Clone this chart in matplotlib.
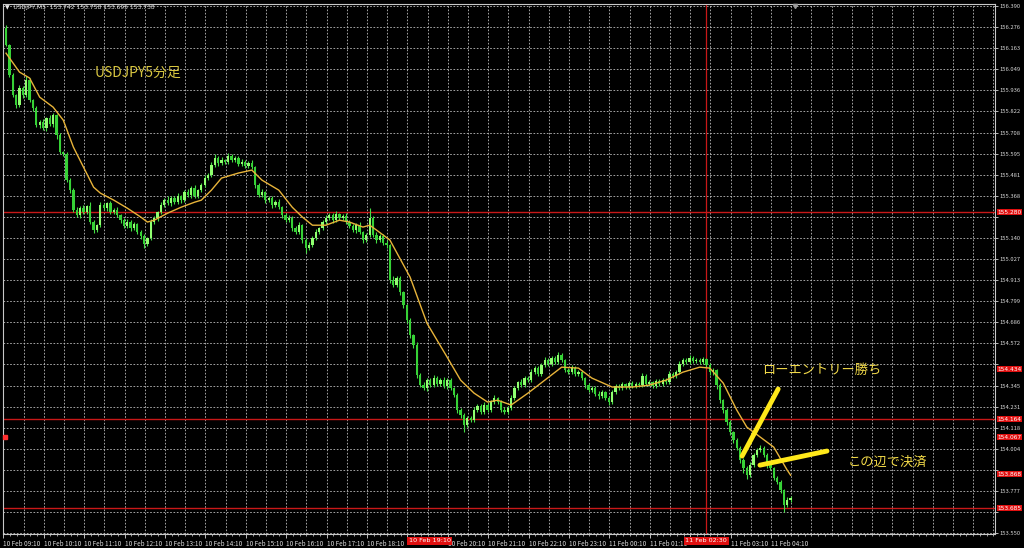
import numpy as np
import matplotlib
matplotlib.use("Agg")
import matplotlib.pyplot as plt

plt.rcParams["font.family"] = ["Noto Sans CJK JP", "DejaVu Sans"]

# --- Daten: USDJPY 5-Minuten-Kerzen (aus dem Bild geschaetzt) ---
first_open = 156.270
closes = [
    156.180, 156.018, 155.910, 155.856, 155.948, 155.910, 155.991, 155.883, 155.840, 155.748,
    155.765, 155.732, 155.786, 155.754, 155.802, 155.694, 155.603, 155.592, 155.452, 155.398,
    155.290, 155.263, 155.301, 155.280, 155.312, 155.226, 155.183, 155.209, 155.317, 155.301,
    155.328, 155.280, 155.290, 155.263, 155.236, 155.204, 155.226, 155.193, 155.215, 155.172,
    155.150, 155.107, 155.139, 155.226, 155.247, 155.280, 155.317, 155.344, 155.328, 155.355,
    155.333, 155.366, 155.344, 155.387, 155.371, 155.409, 155.366, 155.398, 155.425, 155.463,
    155.479, 155.533, 155.571, 155.544, 155.560, 155.549, 155.581, 155.560, 155.571, 155.538,
    155.549, 155.527, 155.544, 155.522, 155.425, 155.371, 155.387, 155.344, 155.355, 155.317,
    155.333, 155.306, 155.263, 155.236, 155.247, 155.193, 155.172, 155.209, 155.129, 155.085,
    155.102, 155.139, 155.172, 155.193, 155.226, 155.247, 155.263, 155.236, 155.269, 155.247,
    155.258, 155.226, 155.204, 155.183, 155.209, 155.172, 155.129, 155.156, 155.247, 155.156,
    155.129, 155.150, 155.112, 155.102, 154.913, 154.886, 154.924, 154.848, 154.778, 154.698,
    154.617, 154.563, 154.401, 154.347, 154.331, 154.374, 154.347, 154.385, 154.353, 154.374,
    154.342, 154.374, 154.331, 154.293, 154.213, 154.186, 154.132, 154.169, 154.159, 154.213,
    154.234, 154.202, 154.240, 154.213, 154.256, 154.277, 154.256, 154.213, 154.202, 154.223,
    154.277, 154.331, 154.363, 154.347, 154.385, 154.374, 154.417, 154.439, 154.407, 154.455,
    154.482, 154.460, 154.493, 154.471, 154.509, 154.482, 154.428, 154.417, 154.439, 154.407,
    154.417, 154.385, 154.347, 154.320, 154.331, 154.299, 154.288, 154.310, 154.277, 154.256,
    154.310, 154.342, 154.331, 154.353, 154.337, 154.358, 154.342, 154.353, 154.347, 154.396,
    154.353, 154.363, 154.342, 154.369, 154.353, 154.374, 154.363, 154.407, 154.396, 154.417,
    154.460, 154.482, 154.471, 154.493, 154.477, 154.482, 154.471, 154.487, 154.455, 154.417,
    154.428, 154.347, 154.266, 154.213, 154.148, 154.094, 154.051, 154.008, 153.943, 153.900,
    153.862, 153.916, 153.970, 153.997, 154.008, 153.970, 153.916, 153.900, 153.846, 153.825,
    153.781, 153.701, 153.728, 153.738,
]
# Dochtlaengen in Points (0.001)
upper_wick = [
    20, 8, 12, 6, 18, 10, 22, 9, 7, 14, 10, 16, 8, 18, 12, 6, 10, 8, 14, 9,
    12, 18, 10, 15, 8, 20, 11, 9, 17, 12, 7, 14, 10, 19, 8, 13, 16, 9, 11, 6,
    10, 14, 9, 18, 12, 8, 15, 11, 20, 9, 13, 17, 8, 12, 16, 10, 14, 7, 12, 18,
    9, 15, 20, 11, 14, 8, 18, 10, 13, 9, 16, 12, 10, 15, 8, 11, 17, 9, 14, 12,
    10, 16, 8, 13, 18, 9, 12, 15, 7, 10, 14, 11, 17, 9, 13, 16, 10, 12, 18, 8,
    12, 15, 9, 14, 11, 17, 8, 13, 55, 10, 14, 9, 12, 16, 8, 20, 10, 12, 9, 7,
    10, 8, 14, 11, 16, 9, 13, 18, 10, 12, 15, 9, 11, 8, 10, 12, 9, 14, 11, 16,
    12, 9, 15, 10, 13, 17, 8, 11, 14, 10, 18, 12, 9, 15, 11, 13, 16, 10, 12, 14,
    18, 10, 13, 9, 15, 11, 8, 12, 14, 9, 11, 13, 8, 10, 12, 9, 14, 10, 8, 11,
    12, 9, 10, 13, 8, 11, 9, 12, 10, 16, 9, 11, 8, 12, 10, 13, 9, 14, 11, 12,
    15, 12, 10, 14, 9, 11, 13, 10, 8, 9, 12, 7, 10, 8, 9, 11, 8, 10, 9, 12,
    14, 18, 12, 10, 16, 9, 11, 13, 8, 10, 12, 9, 14, 10,
]
lower_wick = [
    8, 12, 10, 16, 9, 14, 8, 12, 15, 10, 13, 9, 16, 11, 14, 18, 9, 12, 10, 15,
    11, 9, 14, 10, 13, 8, 16, 12, 9, 11, 15, 10, 12, 8, 14, 11, 9, 13, 10, 12,
    14, 20, 10, 9, 12, 15, 8, 11, 10, 13, 9, 12, 14, 10, 8, 13, 11, 9, 10, 8,
    12, 9, 11, 14, 8, 12, 10, 9, 13, 11, 8, 12, 10, 9, 15, 12, 10, 14, 11, 13,
    10, 12, 14, 9, 11, 15, 12, 10, 16, 25, 12, 9, 11, 13, 10, 8, 12, 14, 9, 11,
    10, 13, 12, 9, 14, 11, 16, 12, 10, 13, 15, 12, 10, 14, 18, 12, 10, 15, 13, 16,
    14, 18, 15, 12, 10, 13, 11, 9, 12, 10, 11, 13, 10, 12, 15, 14, 40, 12, 13, 10,
    11, 9, 12, 10, 8, 11, 9, 12, 13, 10, 9, 11, 12, 10, 9, 11, 8, 10, 12, 9,
    8, 10, 9, 11, 8, 10, 12, 9, 11, 10, 9, 12, 14, 10, 12, 11, 13, 10, 12, 15,
    10, 12, 9, 11, 10, 9, 12, 10, 11, 8, 10, 9, 12, 10, 11, 9, 10, 12, 9, 10,
    11, 9, 10, 8, 9, 10, 8, 9, 12, 14, 16, 18, 15, 14, 16, 13, 15, 12, 14, 25,
    22, 12, 10, 9, 11, 12, 14, 10, 12, 11, 13, 40, 12, 10,
]

# gleitender Durchschnitt
ma_bars = [0, 4, 7, 10, 14, 17, 20, 23, 26, 28, 32, 36, 40, 42, 44, 48, 52, 56, 58, 61,
           64, 69, 73, 76, 81, 85, 88, 91, 95, 99, 102, 106, 108, 110, 114, 120, 125, 131, 135, 139,
           143, 146, 150, 155, 160, 165, 170, 174, 180, 186, 191, 196, 201, 206, 209, 213, 217, 220, 224, 228,
           232, 233]
ma_values = [156.136, 156.034, 156.002, 155.899, 155.845, 155.775, 155.630, 155.522, 155.414, 155.382,
             155.344, 155.301, 155.253, 155.226, 155.236, 155.274, 155.306, 155.333, 155.344, 155.398,
             155.463, 155.490, 155.506, 155.452, 155.398, 155.306, 155.253, 155.209, 155.209, 155.236,
             155.226, 155.199, 155.209, 155.183, 155.129, 154.929, 154.681, 154.498, 154.374, 154.304,
             154.256, 154.266, 154.240, 154.304, 154.374, 154.444, 154.439, 154.385, 154.337, 154.337,
             154.347, 154.374, 154.417, 154.444, 154.439, 154.358, 154.213, 154.121, 154.067, 154.013,
             153.889, 153.862]

level_prices = [155.280, 154.164, 153.685]
marker_prices = [155.280, 154.434, 154.164, 154.067, 153.868, 153.685]
price_ticks = [156.390, 156.276, 156.163, 156.049, 155.936, 155.822, 155.708, 155.595, 155.481,
               155.368, 155.254, 155.140, 155.027, 154.913, 154.799, 154.686, 154.572, 154.459,
               154.345, 154.231, 154.118, 154.004, 153.891, 153.777, 153.663, 153.550]
time_labels = ["10 Feb 09:10", "10 Feb 10:10", "10 Feb 11:10", "10 Feb 12:10", "10 Feb 13:10",
               "10 Feb 14:10", "10 Feb 15:10", "10 Feb 16:10", "10 Feb 17:10", "10 Feb 18:10",
               "10 Feb 19:10", "10 Feb 20:10", "10 Feb 21:10", "10 Feb 22:10", "10 Feb 23:10",
               "11 Feb 00:10", "11 Feb 01:10", "11 Feb 02:10", "11 Feb 03:10", "11 Feb 04:10"]
crosshair_bar = 207.9
crosshair_label = "11 Feb 02:30"
event_bar = 119.6
event_label = "10 Feb 19:10"

GRID = "#bdbdbd"
RED = "#c81818"
MARK = "#e01010"

fig = plt.figure(figsize=(10.24, 5.48), dpi=100, facecolor="black")
ax = fig.add_axes([3 / 1024, 14 / 548, 992 / 1024, 530 / 548], facecolor="black")

# Raster
for g in np.arange(-0.8, 294, 6):
    ax.axvline(g, color=GRID, lw=0.6, ls=(0, (2, 2)), zorder=1)
for p in price_ticks:
    ax.axhline(p, color=GRID, lw=0.6, ls=(0, (2, 2)), zorder=1)

# Kerzen
c = np.array(closes)
o = np.r_[first_open, c[:-1]]
hi = np.maximum(o, c) + np.array(upper_wick) * 0.001
lo = np.minimum(o, c) - np.array(lower_wick) * 0.001
idx = np.arange(len(c))
bull = c >= o
ax.vlines(idx, lo, hi, color="#44dd44", lw=0.8, zorder=3)
ax.bar(idx, np.maximum(np.abs(c - o), 0.004), bottom=np.minimum(o, c), width=0.68,
       color=np.where(bull, "#90ff70", "#36d236"), edgecolor="none", zorder=4)

ax.plot(ma_bars, ma_values, color="#e8b43a", lw=1.0, zorder=5)

# Linien
for p in level_prices:
    ax.axhline(p, color=RED, lw=1.0, zorder=2)
ax.axvline(crosshair_bar, color=RED, lw=0.9, zorder=2)

ax.set_xlim(-0.9, 293.7)
ax.set_ylim(153.545, 156.401)

ax.yaxis.tick_right()
ax.set_yticks(price_ticks)
ax.set_yticklabels([f"{p:.3f}" for p in price_ticks])
ax.tick_params(axis="y", colors="#d8d8d8", labelsize=4.2, length=2, pad=1, width=0.6)
ax.set_xticks(np.arange(-0.8, 230, 12))
ax.set_xticklabels(time_labels, ha="left")
ax.set_xticks(np.arange(-0.8, 294, 2), minor=True)
ax.tick_params(axis="x", colors="#d8d8d8", labelsize=4.6, length=3, pad=1.5, width=0.6)
ax.tick_params(axis="x", which="minor", colors="#d8d8d8", length=1.5, width=0.5)
for s in ax.spines.values():
    s.set_color("#c8c8c8")
    s.set_linewidth(0.8)

# Beschriftungen, die im Original von roten Marken verdeckt sind
xt = ax.get_xticklabels()
xt[10].set_visible(False)
xt[17].set_visible(False)
for lab, p in zip(ax.get_yticklabels(), price_ticks):
    if min(abs(p - m) for m in marker_prices) < 0.03:
        lab.set_visible(False)

# rote Preis-Marken rechts
ytr = ax.get_yaxis_transform()
for p in marker_prices:
    ax.text(1.0025, p, f"{p:.3f}", transform=ytr, fontsize=4.2, color="white", va="center",
            ha="left", family="DejaVu Sans",
            bbox=dict(boxstyle="square,pad=0.12", fc=MARK, ec="none"), clip_on=False, zorder=10)
ax.plot([0.002], [marker_prices[3]], transform=ytr, marker="s", ms=2.5, color="#ff3030",
        clip_on=False, zorder=10)

# rote Zeit-Marken unten
xtr = ax.get_xaxis_transform()
ax.text(event_bar, -0.013, event_label, transform=xtr, fontsize=4.6, color="white", ha="left",
        va="center", family="DejaVu Sans",
        bbox=dict(boxstyle="square,pad=0.25", fc=MARK, ec="none"), clip_on=False, zorder=10)
ax.text(crosshair_bar, -0.013, crosshair_label, transform=xtr, fontsize=4.6, color="white",
        ha="center", va="center", family="DejaVu Sans",
        bbox=dict(boxstyle="square,pad=0.25", fc=MARK, ec="none"), clip_on=False, zorder=10)
ax.plot([234.3], [0.997], transform=xtr, marker="v", ms=3, color="#9a9a9a", clip_on=False, zorder=10)

# Anmerkungen
ax.text(26.4, 156.029, "USDJPY5分足", fontsize=10, color="#d8c640", va="center", ha="left", zorder=8)
ax.text(224.5, 154.428, "ローエントリー勝ち", fontsize=9.5, color="#f0d848", va="center", ha="left", zorder=8)
ax.text(250.1, 153.932, "この辺で決済", fontsize=9.5, color="#f0d848", va="center", ha="left", zorder=8)
ax.plot([218.6, 229.3], [153.965, 154.326], color="#ffe81a", lw=3.5, solid_capstyle="round", zorder=9)
ax.plot([223.9, 243.8], [153.916, 153.992], color="#ffe81a", lw=3.5, solid_capstyle="round", zorder=9)

fig.text(5 / 1024, 1 - 8 / 548, "▼  USDJPY,M5  153.742 153.758 153.695 153.738", fontsize=4.3,
         color="#e8e8e8", va="center", ha="left", family="DejaVu Sans")

fig.savefig("out.png", dpi=100, facecolor="black")
